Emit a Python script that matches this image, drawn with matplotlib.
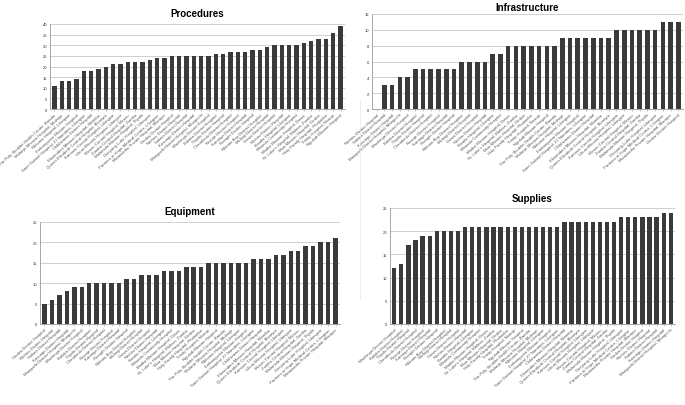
import numpy as np
import matplotlib.pyplot as plt

plt.rcParams['font.family'] = ['Liberation Sans', 'DejaVu Sans']

# facility names (labels are tiny in the source, order differs per panel)
names = ['The Poly. Booklet Health Centre, Bandai', 'Mulanje Mission Hospital, Mulanje',
         'Nkhoma Hospital, Lilongwe', 'Embangweni Mission Hospital',
         'Saint Gabriel Hospital, 27 Namitete, Lilongwe', 'Chikhwawa District Hospital',
         'Ekwendeni Mission Hospital, Mzimba', 'Queen Elizabeth Central Hospital, Blantyre',
         'Kamuzu Central Hospital, Lilongwe', 'Likuni Mission Hospital, Lilongwe',
         'Mzuzu Central Hospital, Mzuzu', 'Zomba Central Hospital, Zomba',
         'Malamulo Mission Hospital, Thyolo', 'Daeyang Luke Hospital, Lilongwe',
         'Partners in Hope Medical Centre, Lilongwe', 'Mwaiwathu Private Hospital, Blantyre',
         'Dedza District Hospital', 'Ntcheu District Hospital', 'Salima District Hospital',
         'Kasungu District Hospital', 'Mangochi District Hospital, Mangochi',
         'Machinga District Hospital', 'Balaka District Hospital', 'Thyolo District Hospital',
         'Chiradzulu District Hospital', 'Nsanje District Hospital', 'Karonga District Hospital',
         'Rumphi District Hospital', 'Nkhata Bay District Hospital', 'Mchinji District Hospital',
         'Dowa District Hospital', 'Ntchisi District Hospital', 'Bwaila Hospital, Lilongwe',
         'Mitundu Community Hospital', 'Madisi Mission Hospital, Dowa',
         'St. Luke\'s Hospital, Malosa, Zomba', 'Mua Mission Hospital, Dedza',
         'Holy Family Hospital, Phalombe', 'Trinity Hospital, Nsanje', 'Nguludi Mission Hospital']

procedures = [11, 13, 13, 14, 18, 18, 19, 20, 21, 21, 22, 22, 22, 23, 24, 24,
              25, 25, 25, 25, 25, 25, 26, 26, 27, 27, 27, 28, 28, 29, 30, 30,
              30, 30, 31, 32, 33, 33, 36, 39]
infrastructure = [0, 3, 3, 4, 4, 5, 5, 5, 5, 5, 5, 6, 6, 6, 6, 7, 7, 8, 8, 8,
                  8, 8, 8, 8, 9, 9, 9, 9, 9, 9, 9, 10, 10, 10, 10, 10, 10, 11, 11, 11]
equipment = [5, 6, 7, 8, 9, 9, 10, 10, 10, 10, 10, 11, 11, 12, 12, 12, 13, 13, 13, 14,
             14, 14, 15, 15, 15, 15, 15, 15, 16, 16, 16, 17, 17, 18, 18, 19, 19, 20, 20, 21]
supplies = [12, 13, 17, 18, 19, 19, 20, 20, 20, 20, 21, 21, 21, 21, 21, 21, 21, 21, 21,
            21, 21, 21, 21, 21, 22, 22, 22, 22, 22, 22, 22, 22, 23, 23, 23, 23, 23, 23, 24, 24]

panels = [
    ('Procedures', procedures, names, 40, 5, [50, 345, 25, 110], 6),
    ('Infrastructure', infrastructure, names[17:] + names[:17], 12, 2, [372, 683, 15, 110], 3),
    ('Equipment', equipment, names[16:] + names[:16], 25, 5, [40, 340, 223, 325], 6),
    ('Supplies', supplies, names[21:] + names[:21], 25, 5, [390, 675, 209, 325], 5),
]

W, H = 685, 406
fig = plt.figure(figsize=(W / 100, H / 100), dpi=100)

for title, vals, labels, ymax, step, (l, r, t, b), pad in panels:
    ax = fig.add_axes([l / W, 1 - b / H, (r - l) / W, (b - t) / H])
    x = np.arange(len(vals))
    ax.bar(x, vals, width=0.6, color='#3a3a3a', zorder=3)
    ax.set_xlim(-0.6, len(vals) - 0.4)
    ax.set_ylim(0, ymax)
    ax.set_yticks(np.arange(0, ymax + 1, step))
    ax.yaxis.grid(True, color='#c8c8c8', linewidth=0.6, zorder=0)
    ax.set_xticks(x)
    ax.set_xticklabels(labels, rotation=42, ha='right', rotation_mode='anchor', fontsize=3.1, color='#555555')
    ax.tick_params(axis='y', labelsize=3, length=0, pad=2, colors='#333333')
    ax.tick_params(axis='x', length=1.5, width=0.4, pad=1, color='#999999')
    for s in ['right', 'top']:
        ax.spines[s].set_visible(False)
    for s in ['left', 'bottom']:
        ax.spines[s].set_color('#999999')
        ax.spines[s].set_linewidth(0.6)
    ax.set_title(title, fontsize=7, fontweight='bold', pad=pad)

# faint divider between the lower panels
fig.add_artist(plt.Line2D([360 / W, 360 / W], [1 - 300 / H, 1 - 100 / H], color='#e6e6e6', linewidth=0.5))

fig.savefig('out.png', dpi=100)
